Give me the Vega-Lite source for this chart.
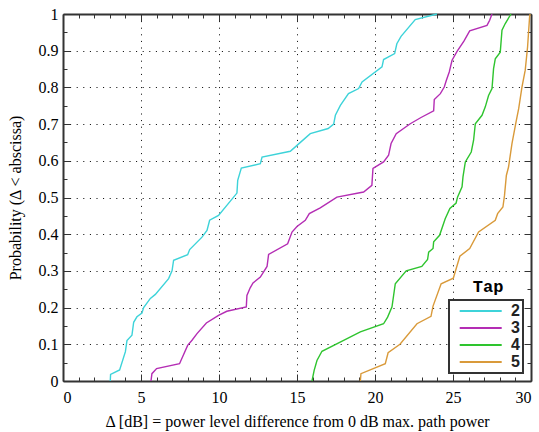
{
  "$schema": "https://vega.github.io/schema/vega-lite/v6.json",
  "width": 468,
  "height": 367,
  "autosize": "none",
  "padding": {"left": 63, "top": 14, "right": 8, "bottom": 51},
  "background": "white",
  "config": {
    "view": {"stroke": null},
    "axis": {
      "domainColor": "#333",
      "domainWidth": 2,
      "tickColor": "#333",
      "labelFont": "Liberation Serif",
      "labelFontSize": 16,
      "labelColor": "#000",
      "titleFont": "Liberation Serif",
      "titleFontSize": 16,
      "titleFontWeight": "normal",
      "titleColor": "#000"
    },
    "legend": {
      "orient": "bottom-right",
      "offset": 8,
      "strokeColor": "#333",
      "strokeWidth": 2,
      "fillColor": "white",
      "padding": 3,
      "symbolType": "M-0.05,0H6.95",
      "symbolSize": 144,
      "symbolStrokeWidth": 2,
      "labelFont": "Liberation Sans",
      "labelFontSize": 16,
      "labelFontWeight": "bold",
      "labelColor": "#222",
      "labelOffset": 43,
      "rowPadding": 1
    }
  },
  "datasets": {
    "curves": [
      {"tap": "2", "x": 3.03, "y": 0}, {"tap": "2", "x": 3.05, "y": 0.018}, {"tap": "2", "x": 3.63, "y": 0.03}, {"tap": "2", "x": 4.0, "y": 0.08}, {"tap": "2", "x": 4.1, "y": 0.11}, {"tap": "2", "x": 4.42, "y": 0.125}, {"tap": "2", "x": 4.53, "y": 0.16}, {"tap": "2", "x": 4.74, "y": 0.175}, {"tap": "2", "x": 5.06, "y": 0.185}, {"tap": "2", "x": 5.17, "y": 0.2}, {"tap": "2", "x": 5.6, "y": 0.225}, {"tap": "2", "x": 5.92, "y": 0.236}, {"tap": "2", "x": 6.77, "y": 0.279}, {"tap": "2", "x": 6.99, "y": 0.3}, {"tap": "2", "x": 7.09, "y": 0.329}, {"tap": "2", "x": 7.99, "y": 0.344}, {"tap": "2", "x": 8.12, "y": 0.358}, {"tap": "2", "x": 8.91, "y": 0.392}, {"tap": "2", "x": 9.23, "y": 0.41}, {"tap": "2", "x": 9.4, "y": 0.438}, {"tap": "2", "x": 9.97, "y": 0.451}, {"tap": "2", "x": 11.15, "y": 0.512}, {"tap": "2", "x": 11.2, "y": 0.547}, {"tap": "2", "x": 11.43, "y": 0.58}, {"tap": "2", "x": 12.65, "y": 0.592}, {"tap": "2", "x": 12.76, "y": 0.61}, {"tap": "2", "x": 14.57, "y": 0.626}, {"tap": "2", "x": 15.0, "y": 0.642}, {"tap": "2", "x": 15.85, "y": 0.674}, {"tap": "2", "x": 17.0, "y": 0.688}, {"tap": "2", "x": 17.35, "y": 0.7}, {"tap": "2", "x": 17.46, "y": 0.724}, {"tap": "2", "x": 17.78, "y": 0.751}, {"tap": "2", "x": 18.3, "y": 0.783}, {"tap": "2", "x": 18.95, "y": 0.797}, {"tap": "2", "x": 19.17, "y": 0.815}, {"tap": "2", "x": 20.45, "y": 0.856}, {"tap": "2", "x": 20.55, "y": 0.876}, {"tap": "2", "x": 21.26, "y": 0.892}, {"tap": "2", "x": 21.4, "y": 0.919}, {"tap": "2", "x": 21.67, "y": 0.939}, {"tap": "2", "x": 22.58, "y": 0.985}, {"tap": "2", "x": 23.97, "y": 1.0},
      {"tap": "3", "x": 5.64, "y": 0}, {"tap": "3", "x": 5.7, "y": 0.02}, {"tap": "3", "x": 6.0, "y": 0.034}, {"tap": "3", "x": 7.47, "y": 0.047}, {"tap": "3", "x": 7.99, "y": 0.097}, {"tap": "3", "x": 8.27, "y": 0.111}, {"tap": "3", "x": 8.59, "y": 0.129}, {"tap": "3", "x": 9.19, "y": 0.158}, {"tap": "3", "x": 9.97, "y": 0.179}, {"tap": "3", "x": 10.5, "y": 0.19}, {"tap": "3", "x": 11.75, "y": 0.202}, {"tap": "3", "x": 11.79, "y": 0.233}, {"tap": "3", "x": 12.0, "y": 0.254}, {"tap": "3", "x": 12.18, "y": 0.267}, {"tap": "3", "x": 12.65, "y": 0.283}, {"tap": "3", "x": 13.08, "y": 0.312}, {"tap": "3", "x": 13.18, "y": 0.345}, {"tap": "3", "x": 14.4, "y": 0.374}, {"tap": "3", "x": 14.68, "y": 0.406}, {"tap": "3", "x": 15.0, "y": 0.421}, {"tap": "3", "x": 15.53, "y": 0.438}, {"tap": "3", "x": 15.79, "y": 0.456}, {"tap": "3", "x": 16.49, "y": 0.472}, {"tap": "3", "x": 17.56, "y": 0.501}, {"tap": "3", "x": 19.27, "y": 0.515}, {"tap": "3", "x": 19.8, "y": 0.533}, {"tap": "3", "x": 19.87, "y": 0.579}, {"tap": "3", "x": 20.55, "y": 0.597}, {"tap": "3", "x": 20.87, "y": 0.615}, {"tap": "3", "x": 21.03, "y": 0.647}, {"tap": "3", "x": 21.36, "y": 0.674}, {"tap": "3", "x": 22.26, "y": 0.701}, {"tap": "3", "x": 22.95, "y": 0.718}, {"tap": "3", "x": 23.76, "y": 0.736}, {"tap": "3", "x": 23.8, "y": 0.767}, {"tap": "3", "x": 24.19, "y": 0.783}, {"tap": "3", "x": 24.44, "y": 0.801}, {"tap": "3", "x": 24.57, "y": 0.819}, {"tap": "3", "x": 24.76, "y": 0.842}, {"tap": "3", "x": 24.94, "y": 0.874}, {"tap": "3", "x": 25.26, "y": 0.898}, {"tap": "3", "x": 25.7, "y": 0.926}, {"tap": "3", "x": 26.07, "y": 0.954}, {"tap": "3", "x": 27.18, "y": 0.969}, {"tap": "3", "x": 27.35, "y": 0.983}, {"tap": "3", "x": 27.5, "y": 1.0},
      {"tap": "4", "x": 15.96, "y": 0}, {"tap": "4", "x": 16.1, "y": 0.029}, {"tap": "4", "x": 16.28, "y": 0.056}, {"tap": "4", "x": 16.6, "y": 0.081}, {"tap": "4", "x": 17.99, "y": 0.111}, {"tap": "4", "x": 19.06, "y": 0.134}, {"tap": "4", "x": 20.55, "y": 0.156}, {"tap": "4", "x": 20.81, "y": 0.174}, {"tap": "4", "x": 21.09, "y": 0.202}, {"tap": "4", "x": 21.3, "y": 0.265}, {"tap": "4", "x": 22.0, "y": 0.3}, {"tap": "4", "x": 23.0, "y": 0.312}, {"tap": "4", "x": 23.37, "y": 0.331}, {"tap": "4", "x": 23.44, "y": 0.351}, {"tap": "4", "x": 23.72, "y": 0.361}, {"tap": "4", "x": 23.76, "y": 0.379}, {"tap": "4", "x": 24.14, "y": 0.397}, {"tap": "4", "x": 24.5, "y": 0.442}, {"tap": "4", "x": 24.8, "y": 0.47}, {"tap": "4", "x": 25.2, "y": 0.485}, {"tap": "4", "x": 25.29, "y": 0.501}, {"tap": "4", "x": 25.58, "y": 0.529}, {"tap": "4", "x": 25.64, "y": 0.556}, {"tap": "4", "x": 25.79, "y": 0.597}, {"tap": "4", "x": 26.17, "y": 0.624}, {"tap": "4", "x": 26.32, "y": 0.656}, {"tap": "4", "x": 26.43, "y": 0.701}, {"tap": "4", "x": 26.86, "y": 0.724}, {"tap": "4", "x": 27.07, "y": 0.747}, {"tap": "4", "x": 27.28, "y": 0.778}, {"tap": "4", "x": 27.5, "y": 0.797}, {"tap": "4", "x": 27.6, "y": 0.851}, {"tap": "4", "x": 27.71, "y": 0.878}, {"tap": "4", "x": 28.03, "y": 0.896}, {"tap": "4", "x": 28.14, "y": 0.956}, {"tap": "4", "x": 28.35, "y": 0.974}, {"tap": "4", "x": 28.72, "y": 1.0},
      {"tap": "5", "x": 19.06, "y": 0}, {"tap": "5", "x": 19.1, "y": 0.02}, {"tap": "5", "x": 20.66, "y": 0.047}, {"tap": "5", "x": 20.84, "y": 0.077}, {"tap": "5", "x": 21.6, "y": 0.1}, {"tap": "5", "x": 22.69, "y": 0.156}, {"tap": "5", "x": 23.59, "y": 0.176}, {"tap": "5", "x": 23.72, "y": 0.204}, {"tap": "5", "x": 24.24, "y": 0.265}, {"tap": "5", "x": 25.02, "y": 0.28}, {"tap": "5", "x": 25.44, "y": 0.34}, {"tap": "5", "x": 26.07, "y": 0.361}, {"tap": "5", "x": 26.64, "y": 0.406}, {"tap": "5", "x": 27.71, "y": 0.438}, {"tap": "5", "x": 27.86, "y": 0.456}, {"tap": "5", "x": 28.2, "y": 0.474}, {"tap": "5", "x": 28.3, "y": 0.505}, {"tap": "5", "x": 28.42, "y": 0.56}, {"tap": "5", "x": 28.56, "y": 0.583}, {"tap": "5", "x": 28.78, "y": 0.647}, {"tap": "5", "x": 29.06, "y": 0.71}, {"tap": "5", "x": 29.21, "y": 0.742}, {"tap": "5", "x": 29.42, "y": 0.801}, {"tap": "5", "x": 29.63, "y": 0.847}, {"tap": "5", "x": 29.78, "y": 0.91}, {"tap": "5", "x": 29.91, "y": 0.992}, {"tap": "5", "x": 29.94, "y": 1.0}
    ],
    "legendtitle": [{"x": 27.25, "y": 0.255, "t": "Tap"}]
  },
  "resolve": {"axis": {"x": "independent", "y": "independent"}},
  "layer": [
    {
      "data": {"name": "curves"},
      "mark": {"type": "line", "strokeWidth": 1.4},
      "encoding": {
        "x": {
          "field": "x", "type": "quantitative",
          "scale": {"domain": [0, 30], "nice": false, "zero": false},
          "axis": {
            "orient": "bottom",
            "values": [0,1,2,3,4,5,6,7,8,9,10,11,12,13,14,15,16,17,18,19,20,21,22,23,24,25,26,27,28,29,30],
            "labelExpr": "datum.value % 5 === 0 ? datum.label : ''",
            "grid": true,
            "gridColor": "#000",
            "gridDash": [1, 5.6],
            "gridWidth": 1,
            "gridOpacity": {"condition": {"test": "datum.value % 5 === 0 && datum.value > 0 && datum.value < 30", "value": 1}, "value": 0},
            "tickSize": {"condition": {"test": "datum.value % 5 === 0", "value": -7}, "value": -4},
            "labelPadding": 15,
            "title": "Δ [dB] = power level difference from 0 dB max. path power",
            "titlePadding": 8
          }
        },
        "y": {
          "field": "y", "type": "quantitative",
          "scale": {"domain": [0, 1], "nice": false},
          "axis": {
            "orient": "left",
            "values": [0,0.05,0.1,0.15,0.2,0.25,0.3,0.35,0.4,0.45,0.5,0.55,0.6,0.65,0.7,0.75,0.8,0.85,0.9,0.95,1],
            "labelExpr": "abs(datum.value*10 - round(datum.value*10)) < 1e-6 ? format(datum.value, '~g') : ''",
            "grid": true,
            "gridColor": "#000",
            "gridDash": [1, 5.6],
            "gridWidth": 1,
            "gridOpacity": {"condition": {"test": "abs(datum.value*10 - round(datum.value*10)) < 1e-6 && datum.value > 0 && datum.value < 1", "value": 1}, "value": 0},
            "tickSize": {"condition": {"test": "abs(datum.value*10 - round(datum.value*10)) < 1e-6", "value": -7}, "value": -4},
            "labelPadding": 12,
            "title": "Probability (Δ < abscissa)",
            "titlePadding": 15
          }
        },
        "color": {
          "field": "tap", "type": "nominal",
          "scale": {"domain": ["2", "3", "4", "5"], "range": ["#3dd3d9", "#b42db4", "#2ec42e", "#d99a3a"]},
          "legend": {"title": null}
        }
      }
    },
    {
      "data": {"name": "legendtitle"},
      "mark": {"type": "text", "font": "Liberation Mono", "fontSize": 17, "fontWeight": "bold", "color": "#000", "baseline": "middle", "align": "center"},
      "encoding": {
        "x": {
          "field": "x", "type": "quantitative",
          "axis": {
            "orient": "top",
            "values": [0,1,2,3,4,5,6,7,8,9,10,11,12,13,14,15,16,17,18,19,20,21,22,23,24,25,26,27,28,29,30],
            "labels": false, "grid": false, "title": null,
            "tickSize": {"condition": {"test": "datum.value % 5 === 0", "value": -7}, "value": -4}
          }
        },
        "y": {
          "field": "y", "type": "quantitative",
          "axis": {
            "orient": "right",
            "values": [0,0.05,0.1,0.15,0.2,0.25,0.3,0.35,0.4,0.45,0.5,0.55,0.6,0.65,0.7,0.75,0.8,0.85,0.9,0.95,1],
            "labels": false, "grid": false, "title": null,
            "tickSize": {"condition": {"test": "abs(datum.value*10 - round(datum.value*10)) < 1e-6", "value": -7}, "value": -4}
          }
        },
        "text": {"field": "t", "type": "nominal"}
      }
    }
  ]
}
